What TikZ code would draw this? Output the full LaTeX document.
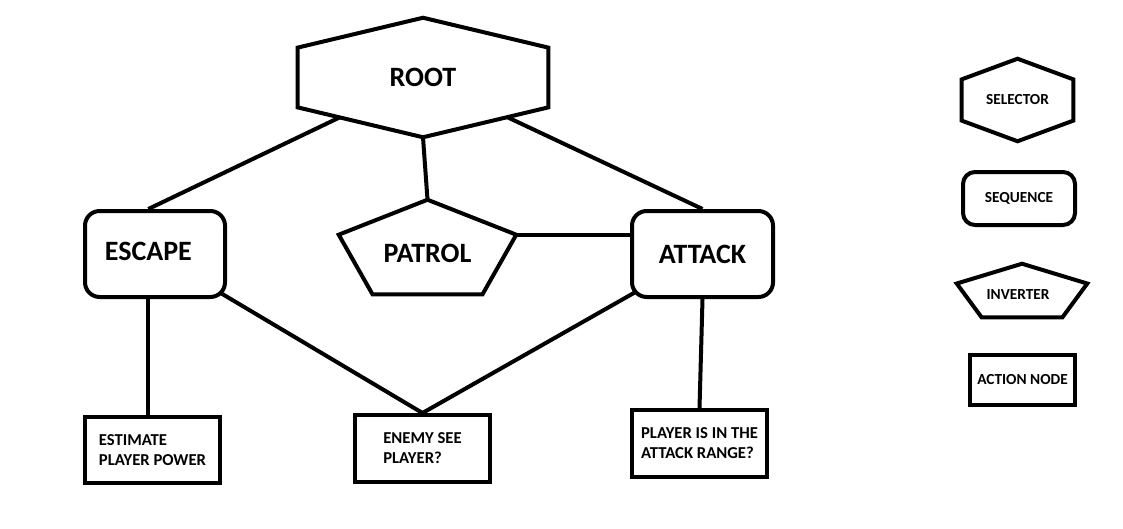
\documentclass[tikz,border=0pt]{standalone}
\usepackage{fontspec}
\setmainfont{Carlito}
\usetikzlibrary{calc}
\pgfdeclarelayer{edges}
\pgfdeclarelayer{shapes}
\pgfsetlayers{edges,shapes,main}

\tikzset{
  outline/.style={draw=black, line width=3pt, fill=white},
  link/.style={line width=3pt},
  bigtext/.style={font=\fontsize{21}{25}\selectfont\bfseries, inner sep=0pt},
  smalltext/.style={font=\fontsize{12.5}{15}\selectfont\bfseries, inner sep=0pt, align=left},
  keytext/.style={font=\fontsize{11.5}{14}\selectfont\bfseries, inner sep=0pt},
  sequence/.style={draw, line width=3pt, fill=white, rounded corners=11pt},
  action/.style={draw, line width=3pt, fill=white},
}

% outlines drawn round a text node
\newcommand{\hexline}[1]{%
  \draw[outline] (#1.north) -- ($(#1.north east)!0.25!(#1.south east)$)
    -- ($(#1.north east)!0.75!(#1.south east)$) -- (#1.south)
    -- ($(#1.north west)!0.75!(#1.south west)$)
    -- ($(#1.north west)!0.25!(#1.south west)$) -- cycle;}
\newcommand{\pentline}[1]{%
  \coordinate (#1-l) at ($(#1.north west)!0.37!(#1.south west)$);
  \coordinate (#1-r) at ($(#1.north east)!0.37!(#1.south east)$);
  \draw[outline] (#1.north) -- (#1-r)
    -- ($(#1.south west)!0.81!(#1.south east)$)
    -- ($(#1.south west)!0.19!(#1.south east)$) -- (#1-l) -- cycle;}

\begin{document}
\begin{tikzpicture}[x=0.75pt,y=-0.75pt]
\useasboundingbox (0,0) rectangle (1123,528);

% tree nodes
\node[bigtext, minimum width=187.5pt, minimum height=89.25pt] (root) at (423,77.5) {ROOT};
\node[minimum width=132.75pt, minimum height=70.5pt, inner sep=0pt,
  label={[bigtext, yshift=-5pt]center:PATROL}] (patrol) at (427.5,247) {};
\node[sequence, minimum width=105pt, minimum height=64.5pt, inner sep=0pt,
  label={[bigtext, xshift=-5pt, yshift=2pt]center:ESCAPE}] (escape) at (155,254) {};
\node[sequence, bigtext, minimum width=105.75pt, minimum height=64.5pt] (attack) at (702.5,254) {ATTACK};
\node[action, smalltext, minimum width=101.25pt, minimum height=49.5pt] (estimate) at (152.5,450) {ESTIMATE\\PLAYER POWER};
\node[action, smalltext, minimum width=101.25pt, minimum height=50.25pt] (enemy) at (422.5,448.5) {ENEMY SEE\\PLAYER?};
\node[action, smalltext, minimum width=101.25pt, minimum height=50.25pt] (player) at (699.5,443.5) {PLAYER IS IN THE\\ATTACK RANGE?};

% legend
\node[keytext, minimum width=83.25pt, minimum height=61.5pt] (selkey) at (1017.5,100) {SELECTOR};
\node[sequence, keytext, rounded corners=9pt, minimum width=84pt, minimum height=39.75pt] (seqkey) at (1019,198.5) {SEQUENCE};
\node[minimum width=97.5pt, minimum height=39.75pt, inner sep=0pt,
  label={[keytext, xshift=-3pt, yshift=-3pt]center:INVERTER}] (invkey) at (1022,290.5) {};
\node[action, keytext, minimum width=78.75pt, minimum height=37.5pt] (actkey) at (1022.5,380) {ACTION NODE};

\begin{pgfonlayer}{shapes}
  \hexline{root}
  \pentline{patrol}
  \hexline{selkey}
  \pentline{invkey}
\end{pgfonlayer}

\begin{pgfonlayer}{edges}
  \draw[link] (root.center) -- ([xshift=-5pt]escape.north);
  \draw[link] (root.south) -- (patrol.north);
  \draw[link] (root.center) -- (attack.north);
  \draw[link] (patrol-r) -- (patrol-r -| attack.west);
  \draw[link] ([xshift=-5pt]escape.south) -- ([xshift=-5pt]escape.south |- estimate.north);
  \draw[link] (escape.center) -- (enemy.north);
  \draw[link] (attack.center) -- (enemy.north);
  \draw[link] (attack.south) -- (player.north);
\end{pgfonlayer}
\end{tikzpicture}
\end{document}
